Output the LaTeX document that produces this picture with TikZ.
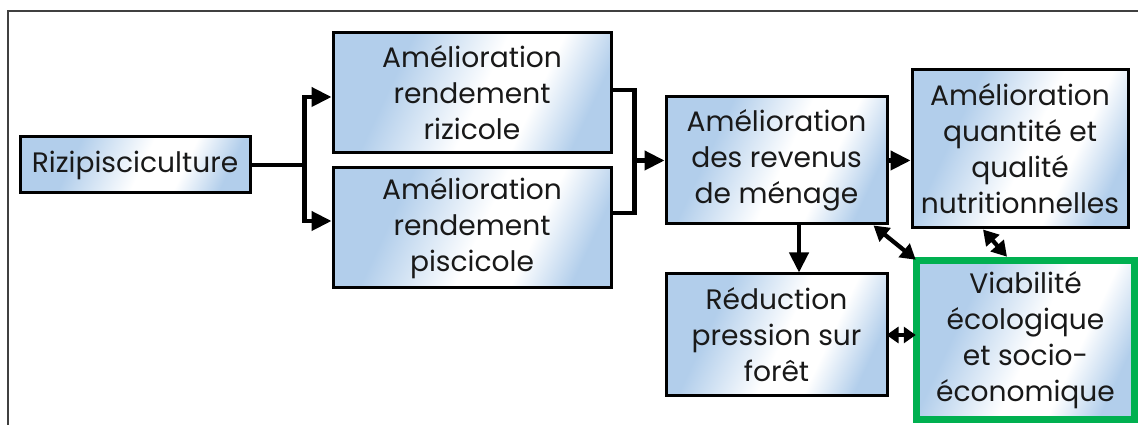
\documentclass[tikz,border=0pt]{standalone}
\usepackage{fontspec}
\setmainfont{Poppins}
\usetikzlibrary{arrows.meta,calc,positioning}
\definecolor{boxblue}{RGB}{178,206,235}
\definecolor{ecogreen}{RGB}{0,176,80}
\definecolor{framegray}{RGB}{64,64,64}
\pgfdeclarehorizontalshading{shine}{100bp}{color(0bp)=(boxblue); color(33bp)=(boxblue); color(52bp)=(white); color(63bp)=(white); color(75bp)=(boxblue); color(100bp)=(boxblue)}

\begin{document}
\begin{tikzpicture}[
  node distance=0.24cm and 0.5cm,
  block/.style={rectangle, draw=black, line width=0.06cm, shading=shine, shading angle=-25,
    align=center, inner sep=2pt, text=black!90, font=\fontsize{16pt}{20.5pt}\selectfont},
  arr/.style={-{Triangle[length=0.4cm,width=0.38cm]}, line width=0.085cm},
  dbl/.style={{Triangle[length=0.3cm,width=0.34cm]}-{Triangle[length=0.3cm,width=0.34cm]}, line width=0.085cm},
  dblshort/.style={{Triangle[length=0.24cm,width=0.32cm]}-{Triangle[length=0.24cm,width=0.32cm]}, line width=0.085cm},
  link/.style={line width=0.085cm},
]
\useasboundingbox (0,0) rectangle (22.76,8.5);
\draw[framegray, line width=0.04cm] (0.16,0) -- (0.16,8.28) -- (22.76,8.28);

\node[block, minimum width=4.6cm, minimum height=1.12cm] (rizi) at (2.7,5.2) {Rizipisciculture};
\node[block, minimum width=5.56cm, minimum height=2.4cm] (rizicole) at (9.44,6.64) {Amélioration\\rendement\\rizicole};
\node[block, minimum width=5.56cm, minimum height=2.4cm, below=of rizicole] (piscicole) {Amélioration\\rendement\\piscicole};
\node[block, minimum width=4.42cm, minimum height=2.54cm] (revenus) at (15.53,5.29) {Amélioration\\des revenus\\de ménage};
\node[block, minimum width=4.42cm, minimum height=2.44cm, below=0.94cm of revenus] (reduction) {Réduction\\pression sur\\forêt};
\node[block, minimum width=4.32cm, minimum height=3.16cm] (nutrition) at (20.4,5.52) {Amélioration\\quantité et\\qualité\\nutritionnelles};
\node[block, draw=ecogreen, line width=0.15cm, minimum width=4.36cm, minimum height=3.18cm] (viab) at (20.51,1.7) {Viabilité\\écologique\\et socio-\\économique};

\coordinate (split) at ($(rizi.east)+(1.06,0)$);
\coordinate[left=0.6cm of revenus.west] (join);
\draw[link] (rizi.east) -- (split);
\draw[arr] (split) |- ([yshift=-0.08cm]rizicole.west);
\draw[arr] (split) |- ([yshift=0.14cm]piscicole.west);
\draw[link] ([yshift=0.06cm]rizicole.east) -| (join) |- ([yshift=0.3cm]piscicole.east);
\draw[arr] (join) -- (revenus.west);
\draw[arr] (revenus.east) -- (revenus.east -| nutrition.west);
\draw[arr] ([xshift=0.45cm]revenus.south) -- ([xshift=0.45cm]revenus.south |- reduction.north);
\draw[dbl] ([xshift=-0.3cm]revenus.south east) -- ([shift={(0.06,-0.06)}]viab.north west);
\draw[dbl] ([xshift=-0.74cm]nutrition.south) -- ([xshift=-0.37cm]viab.north);
\draw[dblshort] ([xshift=-0.04cm]reduction.east) -- ([xshift=0.06cm]reduction.east -| viab.west);
\end{tikzpicture}
\end{document}
